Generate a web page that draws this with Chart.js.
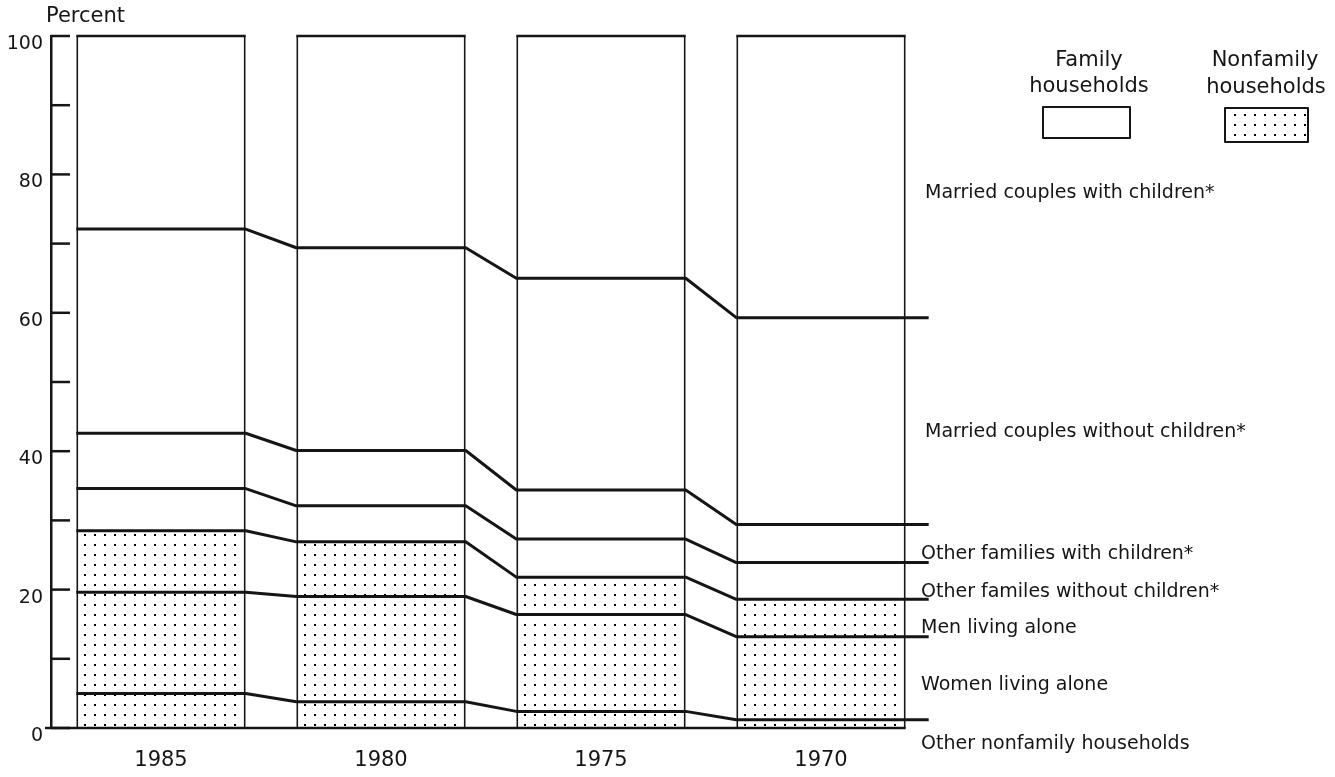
<!DOCTYPE html>
<html>
<head>
<meta charset="utf-8">
<script src="https://cdn.jsdelivr.net/npm/chart.js@4.4.0/dist/chart.umd.min.js"></script>
<style>
  html, body { margin: 0; padding: 0; background: #fff; }
  #wrap { width: 1335px; height: 777px; }
</style>
</head>
<body>
<div id="wrap"><canvas id="households"></canvas></div>
<script>
// Household composition, percent of all households
const YEARS = ['1985', '1980', '1975', '1970'];

// segments, bottom to top
const otherNonfamily = [5.0, 3.8, 2.4, 1.2];
const womenAlone     = [14.6, 15.2, 14.0, 12.0];
const menAlone       = [8.9, 7.9, 5.4, 5.4];
const otherFamNoKids = [6.1, 5.2, 5.5, 5.3];
const otherFamKids   = [8.0, 8.0, 7.1, 5.5];
const marriedNoKids  = [29.5, 29.3, 30.6, 29.9];
const marriedKids    = [27.9, 30.6, 35.0, 40.7];

const SEGMENTS = ['Other nonfamily households', 'Women living alone', 'Men living alone',
    'Other familes without children*', 'Other families with children*',
    'Married couples without children*', 'Married couples with children*'];
const SERIES = [otherNonfamily, womenAlone, menAlone, otherFamNoKids, otherFamKids, marriedNoKids, marriedKids];
const NONFAMILY = [true, true, true, false, false, false, false];

const FONT = '"DejaVu Sans", sans-serif';
const INK = '#151515';

const canvas = document.getElementById('households');
const c2 = canvas.getContext('2d');

// dotted fill for nonfamily households
const tile = document.createElement('canvas');
tile.width = 10; tile.height = 10;
const tg = tile.getContext('2d');
tg.fillStyle = '#fff'; tg.fillRect(0, 0, 10, 10);
tg.fillStyle = '#000'; tg.fillRect(4, 4, 2, 2);
const dots = c2.createPattern(tile, 'repeat');

// right hand labels (pixel rows) and legend
const labelRows = [744, 685, 628, 592, 554, 432, 193];
const labelX = [921, 921, 921, 921, 921, 925, 925];

const decor = {
    id: 'decor',
    afterDatasetsDraw(chart) {
        const ctx = chart.ctx;
        const area = chart.chartArea;
        const yS = chart.scales.y;
        const metas = chart.data.datasets.map((d, i) => chart.getDatasetMeta(i));
        const edges = metas[0].data.map(b => [b.x - b.width / 2, b.x + b.width / 2]);
        const last = edges.length - 1;

        ctx.save();
        ctx.strokeStyle = INK;
        ctx.lineJoin = 'round';

        // segment boundaries with connectors between bars
        ctx.lineWidth = 3;
        for (let k = 0; k < metas.length - 1; k++) {
            ctx.beginPath();
            metas[k].data.forEach((bar, i) => {
                const [l, r] = edges[i];
                if (i === 0) ctx.moveTo(l, bar.y); else ctx.lineTo(l, bar.y);
                ctx.lineTo(r, bar.y);
            });
            ctx.lineTo(edges[last][1] + 23, metas[k].data[last].y);
            ctx.stroke();
        }

        // tops of bars
        ctx.lineWidth = 2.5;
        metas[metas.length - 1].data.forEach((bar, i) => {
            ctx.beginPath();
            ctx.moveTo(edges[i][0], bar.y);
            ctx.lineTo(edges[i][1], bar.y);
            ctx.stroke();
        });

        // baseline
        const y0 = yS.getPixelForValue(0);
        ctx.lineWidth = 2.5;
        ctx.beginPath();
        ctx.moveTo(area.left - 6, y0);
        ctx.lineTo(edges[last][1], y0);
        ctx.stroke();

        // inward tick marks
        ctx.lineWidth = 2.5;
        yS.ticks.forEach(t => {
            const py = yS.getPixelForValue(t.value);
            ctx.beginPath();
            ctx.moveTo(area.left, py);
            ctx.lineTo(area.left + 19, py);
            ctx.stroke();
        });

        // texts
        ctx.fillStyle = INK;
        ctx.textBaseline = 'middle';
        ctx.textAlign = 'left';
        ctx.font = '21px ' + FONT;
        ctx.fillText('Percent', 46, 17);
        ctx.font = '19px ' + FONT;
        SEGMENTS.forEach((s, k) => ctx.fillText(s, labelX[k], labelRows[k]));

        // legend
        ctx.font = '21px ' + FONT;
        ctx.textAlign = 'center';
        ctx.fillText('Family', 1089, 61);
        ctx.fillText('households', 1089, 87);
        ctx.fillText('Nonfamily', 1265, 61);
        ctx.fillText('households', 1266, 88);
        ctx.lineWidth = 2;
        ctx.fillStyle = '#fff';
        ctx.fillRect(1043, 107, 87, 31);
        ctx.strokeRect(1043, 107, 87, 31);
        ctx.fillStyle = dots;
        ctx.fillRect(1225, 108, 83, 34);
        ctx.strokeRect(1225, 108, 83, 34);
        ctx.restore();
    }
};

new Chart(canvas, {
    type: 'bar',
    data: {
        labels: YEARS,
        datasets: SERIES.map((vals, k) => ({
            label: SEGMENTS[k],
            data: vals,
            backgroundColor: NONFAMILY[k] ? dots : '#fff',
            borderColor: INK,
            borderWidth: { left: 2, right: 2, top: 0, bottom: 0 },
            borderSkipped: false,
            barPercentage: 0.77,
            categoryPercentage: 1
        }))
    },
    options: {
        responsive: true,
        maintainAspectRatio: false,
        animation: false,
        layout: { padding: { top: 36, right: 404, left: 0, bottom: 0 } },
        plugins: { legend: { display: false }, tooltip: { enabled: false } },
        scales: {
            x: {
                stacked: true,
                grid: { display: false, drawTicks: false },
                border: { display: false },
                ticks: { color: INK, font: { family: FONT, size: 21 }, padding: 20 },
                afterFit: s => { s.height = 49; }
            },
            y: {
                stacked: true,
                min: 0,
                max: 100,
                grid: { display: false, drawTicks: false },
                border: { display: true, color: INK, width: 2.5 },
                ticks: {
                    stepSize: 10,
                    color: INK,
                    padding: 8,
                    labelOffset: 8,
                    font: { family: FONT, size: 19 },
                    callback: v => (v % 20 === 0 ? v : '')
                },
                afterFit: s => { s.width = 51; }
            }
        }
    },
    plugins: [decor]
});
</script>
</body>
</html>
